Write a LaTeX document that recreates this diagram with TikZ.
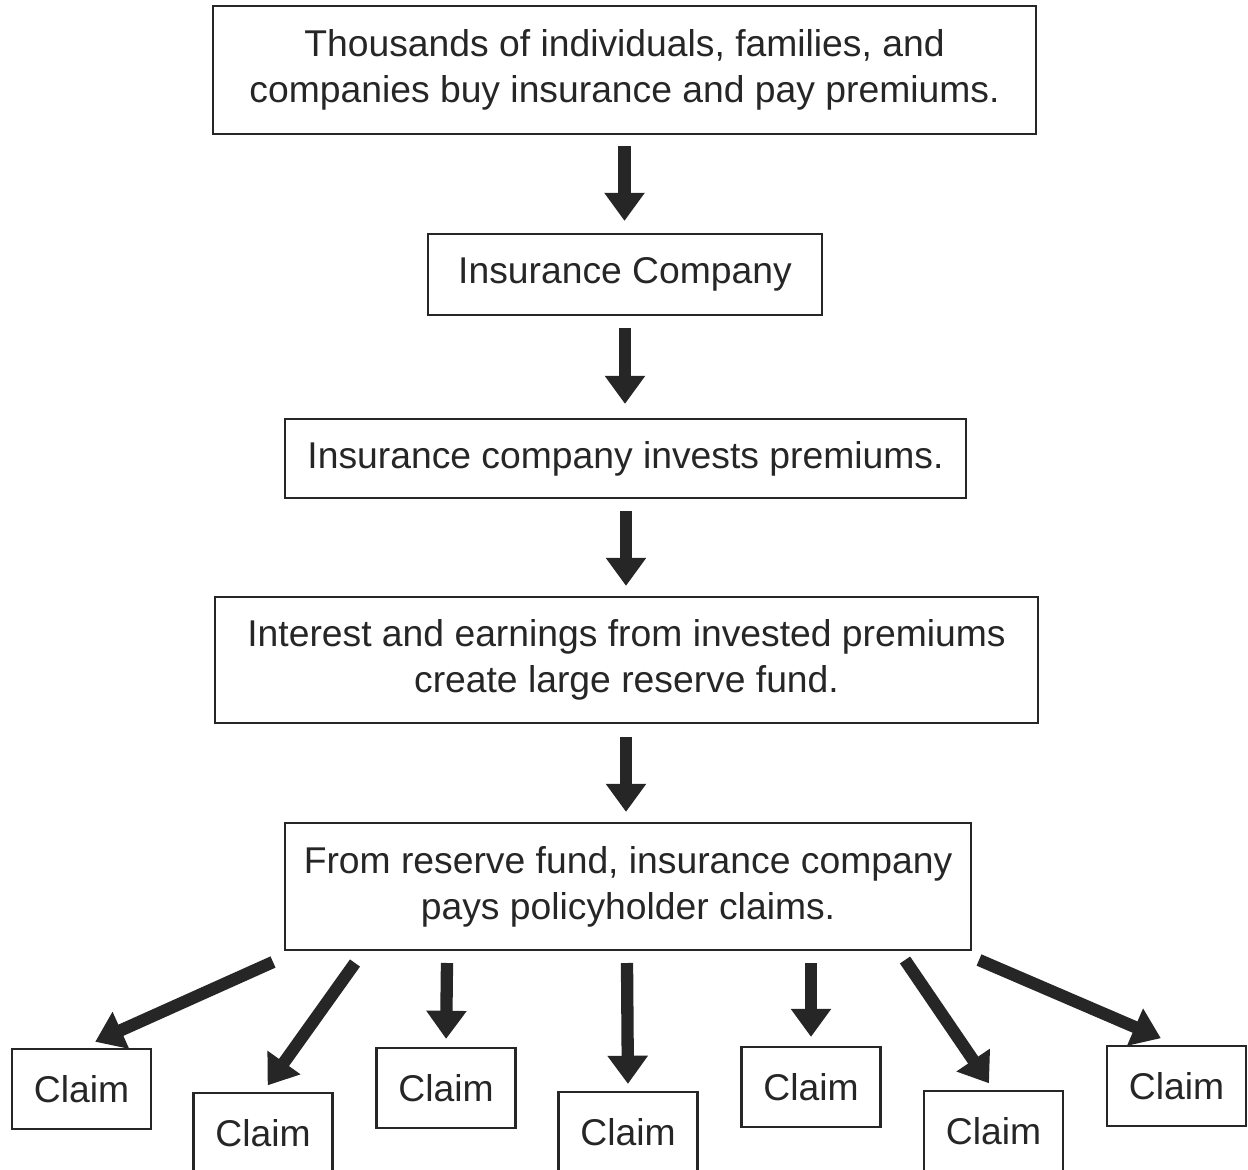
\documentclass[tikz,border=0pt]{standalone}
\usepackage{fontspec}
\setmainfont{Liberation Sans}
\usepackage{tikz}
\usetikzlibrary{arrows.meta}
\tikzset{
	flow box/.style={draw=black!85,line width=0.6pt,text=black!85,align=center,
		font=\fontsize{10.6}{13.1}\selectfont,inner sep=0pt},
	claim box/.style={flow box,minimum width=1.39cm,minimum height=0.8cm},
	big arrow/.style={-{Triangle[width=11pt,length=8pt]},line width=3.5pt,draw=black!85}
}

\begin{document}
\begin{tikzpicture}[x=0.01cm,y=-0.01cm]
      \useasboundingbox (0,0) rectangle (1248,1170);

      \node[flow box,minimum width=8.23cm,minimum height=1.28cm] (1) at (624.5,70)
        {Thousands of individuals, families, and\\companies buy insurance and pay premiums.};
      \node[flow box,minimum width=3.94cm,minimum height=0.81cm] (2) at (625,274.5) {Insurance Company};
      \node[flow box,minimum width=6.81cm,minimum height=0.79cm] (3) at (625.5,458.5) {Insurance company invests premiums.};
      \node[flow box,minimum width=8.23cm,minimum height=1.26cm] (4) at (626.5,660)
        {Interest and earnings from invested premiums\\create large reserve fund.};
      \node[flow box,minimum width=6.86cm,minimum height=1.27cm] (5) at (628,886.5)
        {From reserve fund, insurance company\\pays policyholder claims.};

      \node[claim box] (c1) at (81.5,1089) {Claim};
      \node[claim box] (c2) at (263,1133) {Claim};
      \node[claim box] (c3) at (446,1088) {Claim};
      \node[claim box] (c4) at (628,1132) {Claim};
      \node[claim box] (c5) at (811,1087) {Claim};
      \node[claim box] (c6) at (993.5,1131) {Claim};
      \node[claim box] (c7) at (1176.5,1086) {Claim};

      \draw[big arrow,shorten <=0.11cm,shorten >=0.12cm] (1.south -| 624.5,0) -- (2.north -| 624.5,0);
      \draw[big arrow,shorten <=0.12cm,shorten >=0.14cm] (2.south -| 625,0) -- (3.north -| 625,0);
      \draw[big arrow,shorten <=0.12cm,shorten >=0.10cm] (3.south -| 626,0) -- (4.north -| 626,0);
      \draw[big arrow,shorten <=0.13cm,shorten >=0.10cm] (4.south -| 626,0) -- (5.north -| 626,0);

      % arrows out of the reserve fund
      \coordinate (s1) at (273,962);
      \coordinate (s2) at (355,963);
      \coordinate (s3) at (447,963);
      \coordinate (s4) at (627,963);
      \coordinate (s5) at (811,963);
      \coordinate (s6) at (905,960);
      \coordinate (s7) at (979,960);

      \draw[big arrow,shorten >=0.15cm] (s1) -- (c1.north);
      \draw[big arrow,shorten >=0.08cm] (s2) -- (c2.north);
      \draw[big arrow,shorten >=0.08cm] (s3) -- (c3.north);
      \draw[big arrow,shorten >=0.07cm] (s4) -- (c4.north);
      \draw[big arrow,shorten >=0.09cm] (s5) -- (c5.north);
      \draw[big arrow,shorten >=0.08cm] (s6) -- (c6.north);
      \draw[big arrow,shorten >=0.17cm] (s7) -- (c7.north);
\end{tikzpicture}
\end{document}
